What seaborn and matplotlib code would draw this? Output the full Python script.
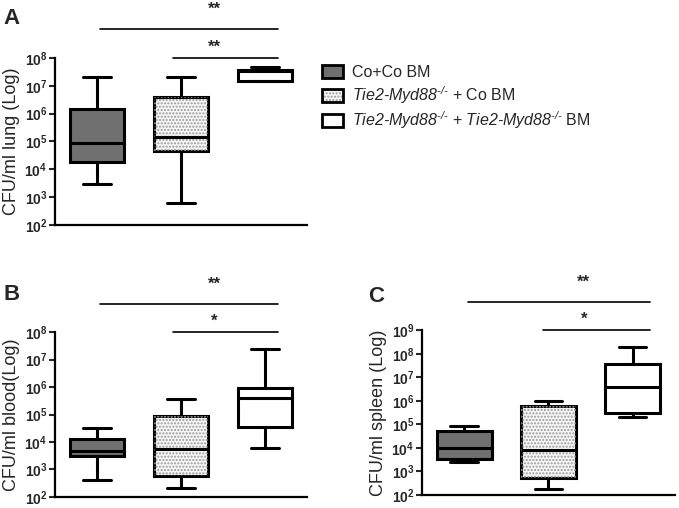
import numpy as np
import pandas as pd
import matplotlib
matplotlib.use('Agg')
import matplotlib.pyplot as plt
import matplotlib.patches as mpatches
import matplotlib.transforms as mtransforms
from matplotlib.legend_handler import HandlerTuple
from matplotlib.ticker import FixedLocator, FuncFormatter, NullLocator
import seaborn as sns

# five-number summaries: min, Q1, median, Q3, max
groups = ['Co+Co BM', 'Tie2-Myd88-/- + Co BM', 'Tie2-Myd88-/- + Tie2-Myd88-/- BM']

lung_co = [3.0e3, 1.8e4, 8.7e4, 1.5e6, 2.1e7]
lung_tie2 = [6.3e2, 4.4e4, 1.4e5, 4.1e6, 2.1e7]
lung_dko = [1.45e7, 1.5e7, 3.5e7, 3.7e7, 4.6e7]

blood_co = [4.0e2, 3.2e3, 4.8e3, 1.26e4, 3.2e4]
blood_tie2 = [2.05e2, 5.6e2, 5.7e3, 9.1e4, 3.7e5]
blood_dko = [5.8e3, 3.6e4, 3.9e5, 9.1e5, 2.5e7]

spleen_co = [2.6e3, 3.3e3, 9.6e3, 5.2e4, 8.1e4]
spleen_tie2 = [1.8e2, 5.4e2, 7.9e3, 5.9e5, 1.0e6]
spleen_dko = [2.1e5, 2.9e5, 3.7e6, 3.6e7, 1.9e8]

# y-axis decades shown on each panel
ticks_lung = [1e2, 1e3, 1e4, 1e5, 1e6, 1e7, 1e8]
ticks_blood = [1e2, 1e3, 1e4, 1e5, 1e6, 1e7, 1e8]
ticks_spleen = [1e2, 1e3, 1e4, 1e5, 1e6, 1e7, 1e8, 1e9]

# significance bars: (x start, x end, star x, label)
sig_lung = [(0.03, 2.16, 1.40, '**'), (0.91, 2.16, 1.40, '**')]
sig_blood = [(0.03, 2.16, 1.40, '**'), (0.91, 2.16, 1.40, '*')]
sig_spleen = [(0.05, 2.2, 1.42, '**'), (0.94, 2.2, 1.42, '*')]

ylabels = ['CFU/ml lung (Log)', 'CFU/ml blood(Log)', 'CFU/ml spleen (Log)']
letters = ['A', 'B', 'C']

palette = {groups[0]: '#707070', groups[1]: '#f6f6f6', groups[2]: '#ffffff'}

sns.set_style('ticks')
plt.rcParams['font.family'] = ['Liberation Sans', 'DejaVu Sans']
plt.rcParams['mathtext.fontset'] = 'custom'
plt.rcParams['mathtext.rm'] = 'Liberation Sans:italic'
plt.rcParams['mathtext.it'] = 'Liberation Sans:italic'
plt.rcParams['mathtext.bf'] = 'Liberation Sans:bold'
plt.rcParams['hatch.linewidth'] = 1.0

fig = plt.figure(figsize=(6.79, 5.08), dpi=100)
ax_a = fig.add_axes([0.081, 0.557, 0.371, 0.329])
ax_b = fig.add_axes([0.081, 0.022, 0.371, 0.324])
ax_c = fig.add_axes([0.6215, 0.026, 0.3725, 0.324])


def log_fmt(v, pos):
    e = int(round(np.log10(v)))
    return r'$\mathbf{10^{%d}}$' % e


def draw_panel(ax, vals, yticks, sigs, ylabel):
    df = pd.DataFrame({
        'group': np.repeat(groups, 5),
        'cfu': np.concatenate(vals),
    })
    sns.boxplot(data=df, x='group', y='cfu', hue='group', palette=palette,
                order=groups, hue_order=groups, log_scale=True, whis=(0, 100),
                width=0.65, linewidth=2.2, linecolor='black', legend=False,
                dodge=False, ax=ax)
    # dotted fill for the middle box
    box = ax.patches[1]
    dots = mpatches.PathPatch(box.get_path(), transform=box.get_transform(),
                              facecolor='none', edgecolor='#999999', lw=0,
                              hatch='.....', zorder=box.get_zorder() + 0.05)
    ax.add_patch(dots)

    ax.set_ylim(yticks[0], yticks[-1])
    ax.set_xlim(-0.5, 2.5)
    ax.yaxis.set_major_locator(FixedLocator(yticks))
    ax.yaxis.set_minor_locator(NullLocator())
    ax.yaxis.set_major_formatter(FuncFormatter(log_fmt))
    ax.set_xticks([])
    ax.set_xlabel('')
    ax.set_ylabel(ylabel, fontsize=13, labelpad=3)
    ax.tick_params(axis='y', labelsize=10, length=4, width=1.5, pad=1.5)
    for side in ['left', 'bottom']:
        ax.spines[side].set_linewidth(1.6)
        ax.spines[side].set_color('black')
    sns.despine(ax=ax)

    trans = mtransforms.blended_transform_factory(ax.transData, ax.transAxes)
    line_levels = [1.17, 1.0]
    star_levels = [1.29, 1.065]
    for (x0, x1, xs, lab), yl, ys in zip(sigs, line_levels, star_levels):
        ax.plot([x0, x1], [yl, yl], color='black', lw=1.2, transform=trans,
                clip_on=False)
        ax.text(xs, ys, lab, transform=trans, ha='center', va='center',
                fontsize=12, fontweight='bold')


draw_panel(ax_a, [lung_co, lung_tie2, lung_dko], ticks_lung, sig_lung, ylabels[0])
draw_panel(ax_b, [blood_co, blood_tie2, blood_dko], ticks_blood, sig_blood, ylabels[1])
draw_panel(ax_c, [spleen_co, spleen_tie2, spleen_dko], ticks_spleen, sig_spleen, ylabels[2])

# panel letters
for lab, (px, py) in zip(letters, [(12, 19), (12, 295), (376, 297)]):
    fig.text(px / 679, 1 - py / 508, lab, fontsize=16, fontweight='bold',
             ha='center', va='center')

# legend
h_co = mpatches.Patch(facecolor=palette[groups[0]], edgecolor='black', lw=2)
h_tie2 = (mpatches.Patch(facecolor=palette[groups[1]], edgecolor='#999999',
                         lw=0, hatch='.....'),
          mpatches.Patch(facecolor='none', edgecolor='black', lw=2))
h_dko = mpatches.Patch(facecolor='white', edgecolor='black', lw=2)
tie2 = r'$Tie2\text{-}Myd88^{\text{-/-}}$'
leg_labels = ['Co+Co BM', tie2 + ' + Co BM', tie2 + ' + ' + tie2 + ' BM']
fig.legend([h_co, h_tie2, h_dko], leg_labels, loc='upper left',
           bbox_to_anchor=(0.465, 0.885), frameon=False, fontsize=11.5,
           handlelength=1.3, handleheight=0.9, handletextpad=0.6,
           labelspacing=0.25, borderaxespad=0,
           handler_map={tuple: HandlerTuple(ndivide=1)})

fig.savefig('out.png', dpi=100)
